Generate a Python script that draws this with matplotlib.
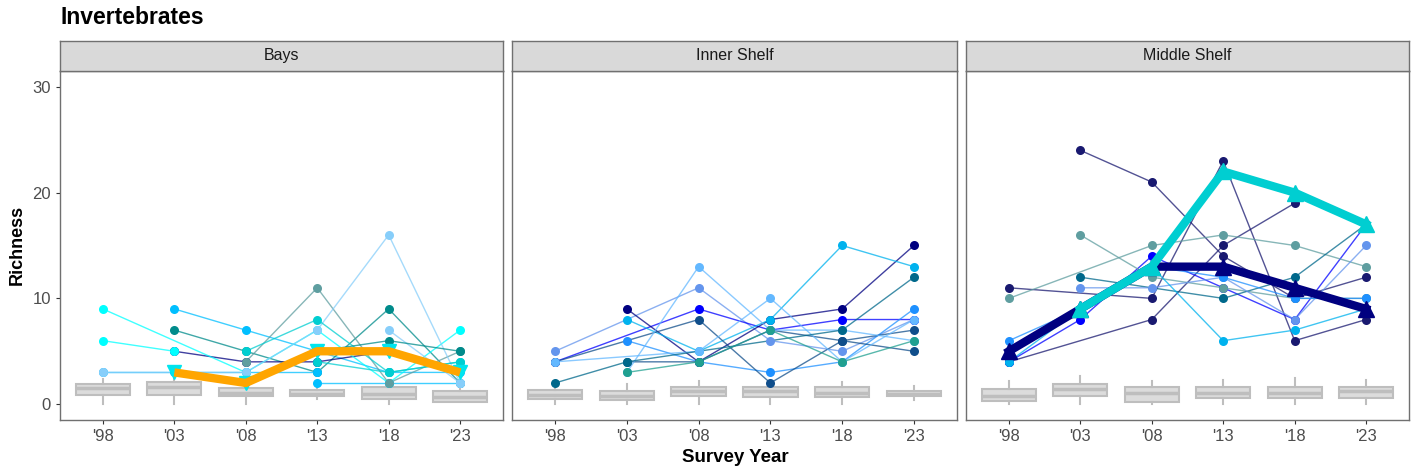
import numpy as np
import matplotlib
matplotlib.use("Agg")
import matplotlib.pyplot as plt

plt.rcParams['font.family'] = ['Liberation Sans', 'DejaVu Sans']

nan = np.nan
years = ["'98", "'03", "'08", "'13", "'18", "'23"]
panels = ["Bays", "Inner Shelf", "Middle Shelf"]

# ---- Bays site series ----
bays_series = [
    ("#00BFFF", [nan, 9, 7, 5, 3, 3]),
    ("#008B8B", [nan, 7, 5, 3, 9, 2]),
    ("#000080", [nan, 5, 4, 4, 5, nan]),
    ("#00FFFF", [9, nan, 3, 7, 2, 7]),
    ("#00FFFF", [6, 5, nan, nan, nan, nan]),
    ("#00BFFF", [3, 3, 3, 3, nan, nan]),
    ("#00BFFF", [nan, nan, nan, 2, 2, 2]),
    ("#5F9EA0", [nan, nan, 4, 11, 2, 5]),
    ("#87CEFA", [3, nan, 3, 7, 16, 2]),
    ("#00CED1", [nan, nan, 5, 8, 3, 4]),
    ("#00CED1", [nan, nan, nan, 4, 3, 4]),
    ("#87CEFA", [nan, nan, nan, nan, 7, 2]),
    ("#008B8B", [nan, nan, nan, 5, 6, 5]),
]
bays_mean = [nan, 3, 2, 5, 5, 3]

# ---- Inner Shelf site series ----
inner_series = [
    ("#6495ED", [5, nan, 11, 6, 5, 8]),
    ("#0000FF", [4, nan, 9, 7, 8, 8]),
    ("#000080", [nan, 9, 4, 8, 9, 15]),
    ("#00B2EE", [nan, 8, 5, 8, 15, 13]),
    ("#1E90FF", [nan, 6, 4, 3, 4, 9]),
    ("#104E8B", [4, nan, 8, 2, 6, 7]),
    ("#104E8B", [nan, 4, 4, 7, 6, 5]),
    ("#63B8FF", [4, nan, 5, 10, 4, 8]),
    ("#63B8FF", [nan, 3, 13, 7, 7, 6]),
    ("#00688B", [2, 4, nan, nan, 7, 12]),
    ("#20A090", [nan, 3, 4, 7, 4, 6]),
]

# ---- Middle Shelf site series ----
middle_series = [
    ("#191970", [nan, 24, 21, 14, 10, 12]),
    ("#191970", [11, nan, 10, 23, 6, 8]),
    ("#191970", [4, nan, 8, 15, 19, nan]),
    ("#0000FF", [4, 8, 14, 11, 8, 17]),
    ("#5F9EA0", [10, nan, 15, 16, 15, 13]),
    ("#5F9EA0", [nan, 16, 12, 11, 10, 10]),
    ("#00688B", [nan, 12, nan, 10, 12, 17]),
    ("#6495ED", [nan, 11, 11, 12, 8, 15]),
    ("#1E90FF", [6, 9, 13, 12, 10, 10]),
    ("#00B2EE", [4, 9, 13, 6, 7, 9]),
]
middle_mean_turq = [nan, 9, 13, 22, 20, 17]
middle_mean_navy = [5, 9, 13, 13, 11, 9]

# ---- Boxplot summaries (whislo, q1, med, q3, whishi) per year ----
bays_box = [(0, 0.9, 1.5, 1.9, 2.4), (0, 0.9, 1.6, 2.1, 3.3), (0, 0.8, 1.1, 1.5, 1.9),
            (0.5, 0.8, 1.0, 1.3, 1.5), (0, 0.5, 1.0, 1.6, 2.3), (0.2, 0.2, 0.7, 1.2, 1.5)]
inner_box = [(0, 0.5, 0.9, 1.3, 1.5), (0, 0.4, 0.8, 1.2, 1.9), (0, 0.8, 1.2, 1.6, 2.2),
             (0, 0.7, 1.2, 1.6, 1.9), (0, 0.7, 1.1, 1.6, 2.1), (0.4, 0.8, 1.0, 1.2, 1.7)]
middle_box = [(0, 0.3, 0.8, 1.4, 2.2), (0, 0.8, 1.4, 1.9, 2.7), (0, 0.2, 1.1, 1.6, 2.2),
              (0, 0.6, 1.1, 1.6, 2.3), (0, 0.6, 1.1, 1.6, 2.5), (0, 0.6, 1.2, 1.6, 2.3)]

W, H = 1413, 472
fig = plt.figure(figsize=(W / 100, H / 100), dpi=100)

def px_axes(l, t, r, b):
    return fig.add_axes([l / W, 1 - b / H, (r - l) / W, (b - t) / H])

panel_px = [(60, 503), (512, 957), (966, 1409)]
top, bot, strip_top = 71, 420, 41
border = "#707070"

x = np.arange(1, 7)

def draw_box(ax, stats):
    bx = []
    for (lo, q1, med, q3, hi) in stats:
        bx.append(dict(whislo=lo, q1=q1, med=med, q3=q3, whishi=hi, fliers=[]))
    ax.bxp(bx, positions=x, widths=0.76, patch_artist=True, showcaps=False,
           boxprops=dict(facecolor="#DCDCDC", edgecolor="#BEBEBE", linewidth=1.5),
           medianprops=dict(color="#BEBEBE", linewidth=2.5),
           whiskerprops=dict(color="#BEBEBE", linewidth=1.5), zorder=1)

def draw_series(ax, series):
    for col, vals in series:
        v = np.array(vals, dtype=float)
        m = ~np.isnan(v)
        ax.plot(x[m], v[m], color=col, lw=1.0, alpha=0.75, zorder=3)
        ax.plot(x[m], v[m], 'o', color=col, ms=6.5, mec='none', zorder=4)

data = [(bays_series, bays_box), (inner_series, inner_box), (middle_series, middle_box)]

for i, ((l, r), name, (series, box)) in enumerate(zip(panel_px, panels, data)):
    ax = px_axes(l, top, r, bot)
    draw_box(ax, box)
    draw_series(ax, series)
    if i == 0:
        mv = np.array(bays_mean, dtype=float)
        mm = ~np.isnan(mv)
        ax.plot(x[mm], mv[mm], 'v', color="#00E5EE", ms=10, zorder=5)
        ax.plot(x[mm], mv[mm], color="#FFA500", lw=6, solid_capstyle='butt', zorder=6)
    if i == 2:
        for vals, col in [(middle_mean_navy, "#000080"), (middle_mean_turq, "#00CED1")]:
            mv = np.array(vals, dtype=float)
            mm = ~np.isnan(mv)
            ax.plot(x[mm], mv[mm], color=col, lw=6, marker='^', ms=12, zorder=6)
    ax.set_xlim(0.4, 6.6)
    ax.set_ylim(-1.5, 31.5)
    ax.set_xticks(x)
    ax.set_xticklabels(years, fontsize=12, color="#4D4D4D")
    ax.set_yticks([0, 10, 20, 30])
    if i == 0:
        ax.set_yticklabels(["0", "10", "20", "30"], fontsize=12, color="#4D4D4D")
        ax.tick_params(axis='y', length=3, color="#333333")
    else:
        ax.set_yticklabels([])
        ax.tick_params(axis='y', length=0)
    ax.tick_params(axis='x', length=3, color="#333333")
    for s in ax.spines.values():
        s.set_color(border)
        s.set_linewidth(1.0)
    ax.set_facecolor("white")

    sax = px_axes(l, strip_top, r, top)
    sax.set_facecolor("#D9D9D9")
    sax.set_xticks([])
    sax.set_yticks([])
    for s in sax.spines.values():
        s.set_color(border)
        s.set_linewidth(1.0)
    sax.text(0.5, 0.5, name, ha='center', va='center', fontsize=11.5, color="#1A1A1A",
             transform=sax.transAxes)

fig.text(60 / W, 1 - 18 / H, "Invertebrates", fontsize=16.5, fontweight='bold',
         ha='left', va='center')
fig.text(735 / W, 1 - 457 / H, "Survey Year", fontsize=13.5, fontweight='bold',
         ha='center', va='center')
fig.text(17 / W, 1 - 245 / H, "Richness", fontsize=13, fontweight='bold',
         ha='center', va='center', rotation=90)

fig.savefig("out.png", dpi=100, facecolor="white")
